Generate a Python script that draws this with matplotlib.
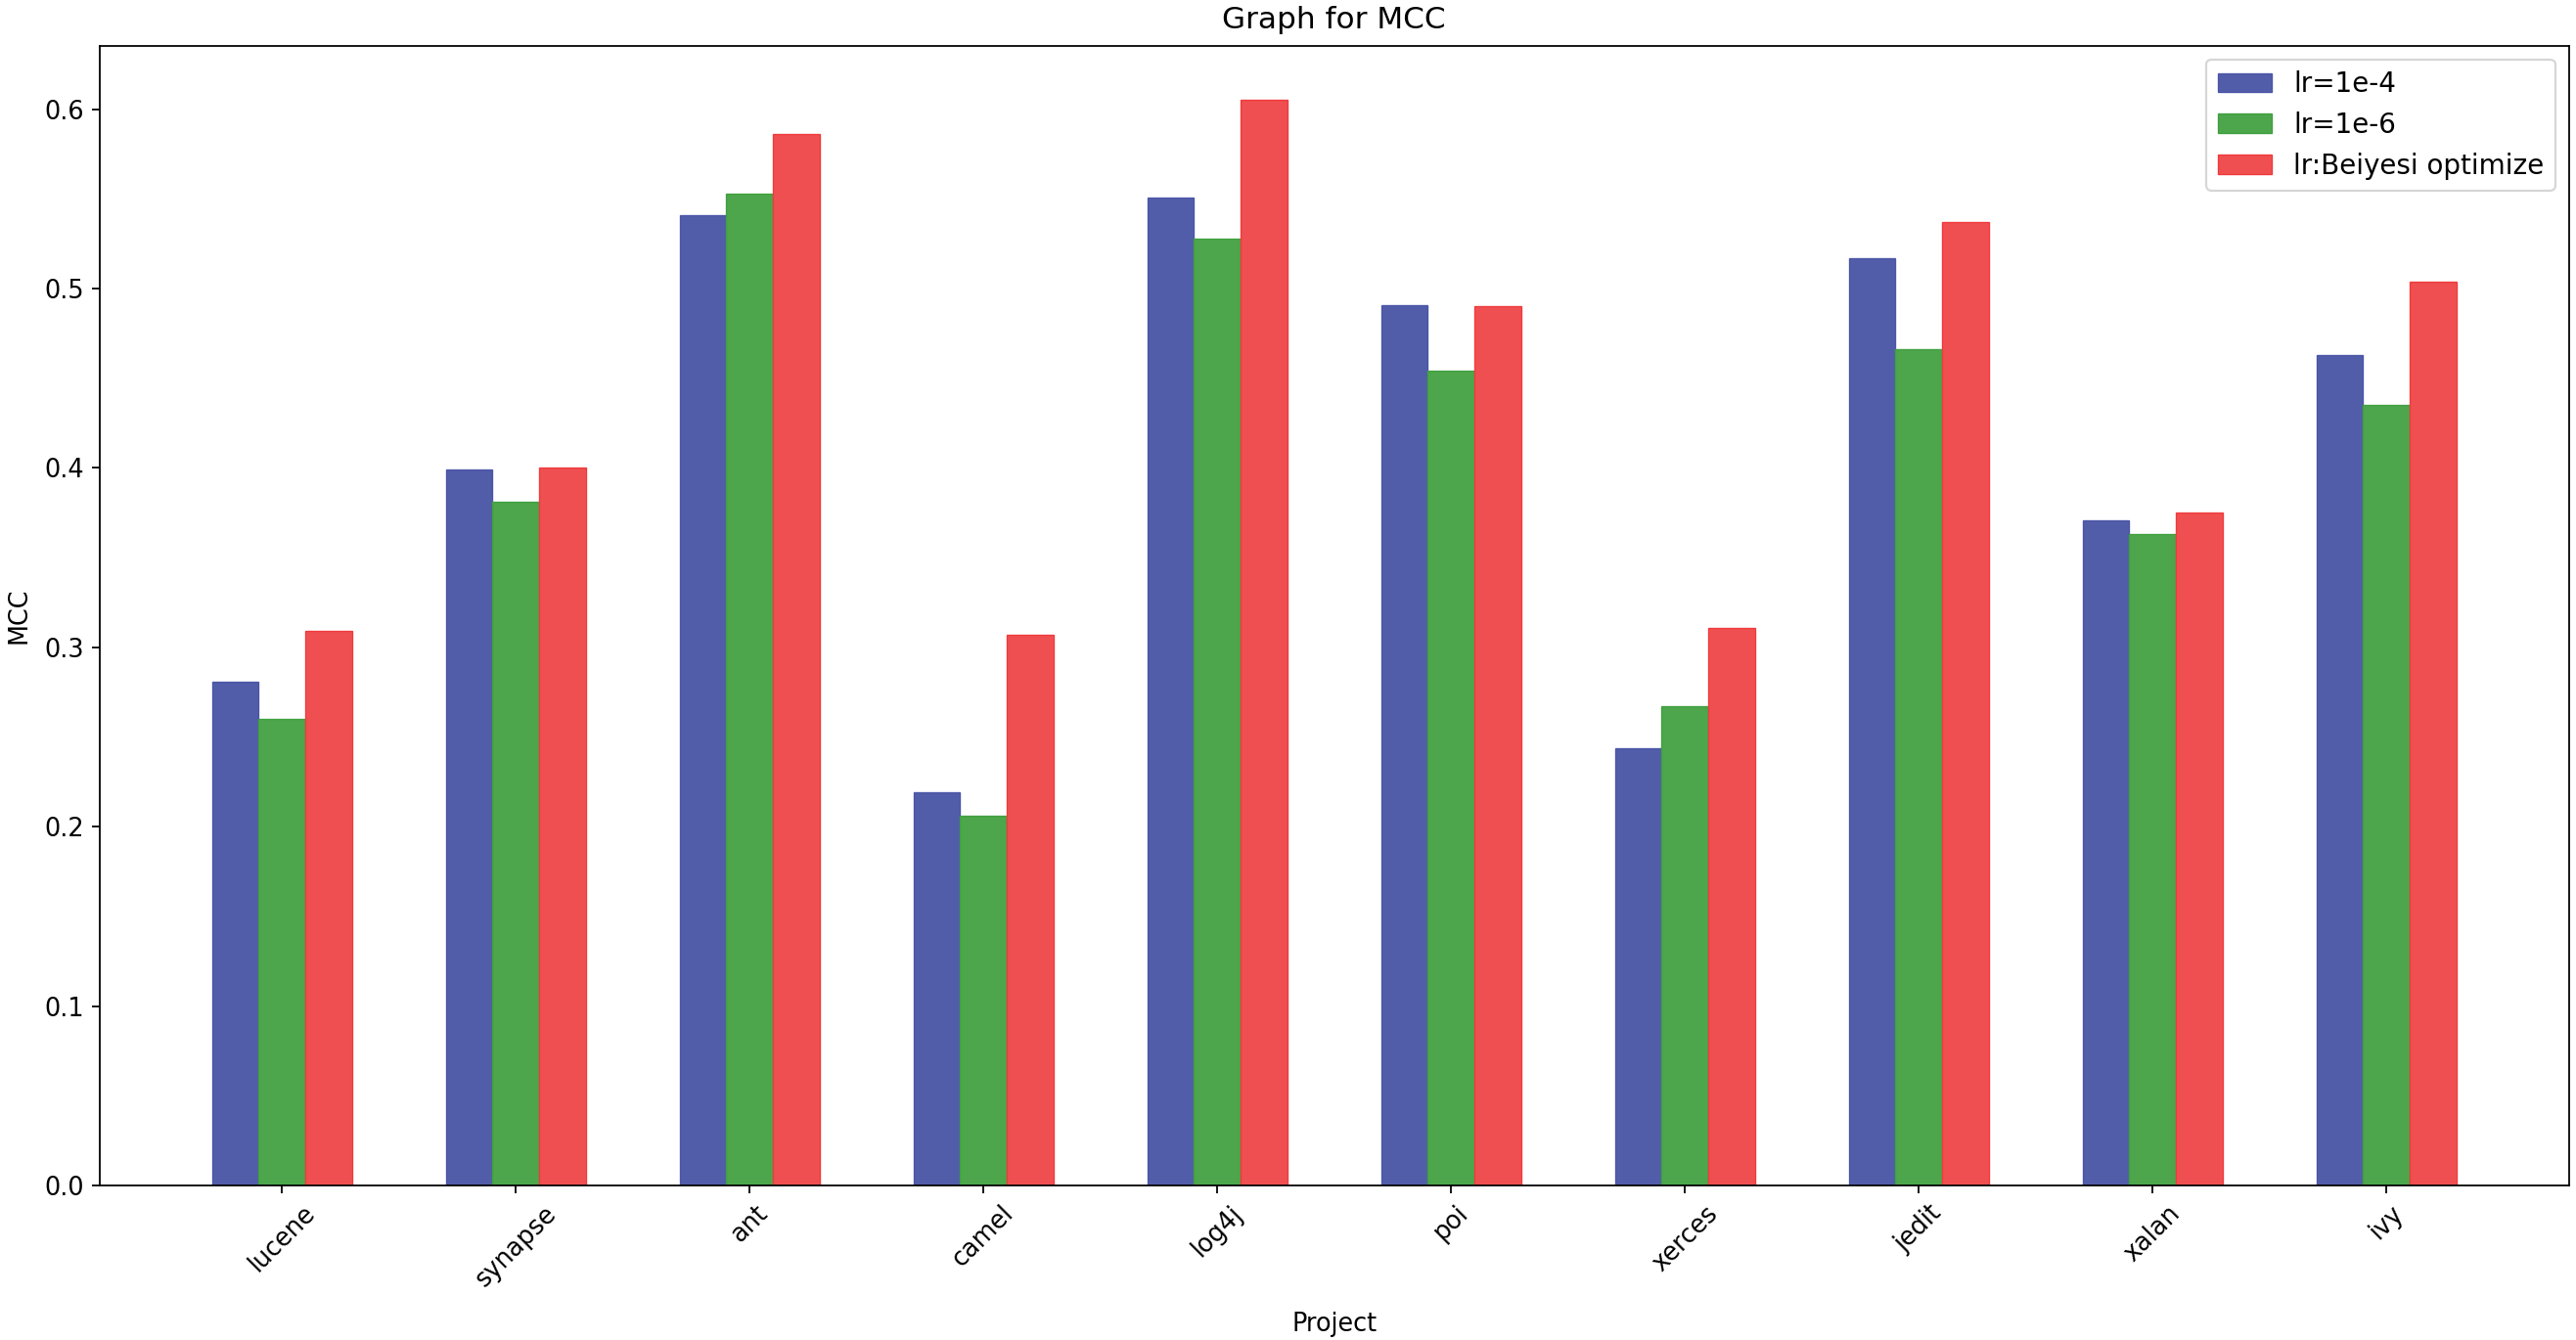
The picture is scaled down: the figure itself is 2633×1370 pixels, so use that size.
import numpy as np
import matplotlib
matplotlib.use('Agg')
import matplotlib.pyplot as plt

# values
projects = ['lucene', 'synapse', 'ant', 'camel', 'log4j', 'poi', 'xerces', 'jedit', 'xalan', 'ivy']
mcc_lr_1e4 = [0.281, 0.399, 0.541, 0.219, 0.551, 0.491, 0.244, 0.517, 0.371, 0.463]
mcc_lr_1e6 = [0.260, 0.381, 0.553, 0.206, 0.528, 0.454, 0.267, 0.466, 0.363, 0.435]
mcc_bayes = [0.309, 0.400, 0.586, 0.307, 0.605, 0.490, 0.311, 0.537, 0.375, 0.504]
series_names = ['lr=1e-4', 'lr=1e-6', 'lr:Beiyesi optimize']

fig = plt.figure(figsize=(2633 / 160, 1370 / 160), dpi=160)
ax = fig.add_axes([0.0387, 0.1153, 0.9585, 0.8504])

x = np.arange(len(projects))
width = 0.2

ax.bar(x - width, mcc_lr_1e4, width, color='#525DA9', edgecolor='#4A55A8', linewidth=0.6, label=series_names[0])
ax.bar(x, mcc_lr_1e6, width, color='#4DA64B', edgecolor='#3FA03F', linewidth=0.6, label=series_names[1])
ax.bar(x + width, mcc_bayes, width, color='#EF4F50', edgecolor='#F03A3C', linewidth=0.6, label=series_names[2])

ax.set_xticks(x)
ax.set_xticklabels(projects, rotation=45)
ax.tick_params(labelsize=11.5)
ax.set_xlabel('Project', fontsize=11.5, labelpad=9)
ax.set_ylabel('MCC', fontsize=11.5, labelpad=6)
ax.set_title('Graph for MCC', fontsize=14, pad=8)
ax.legend(loc='upper right', fontsize=12.5)

plt.savefig('out.png', dpi=160)
